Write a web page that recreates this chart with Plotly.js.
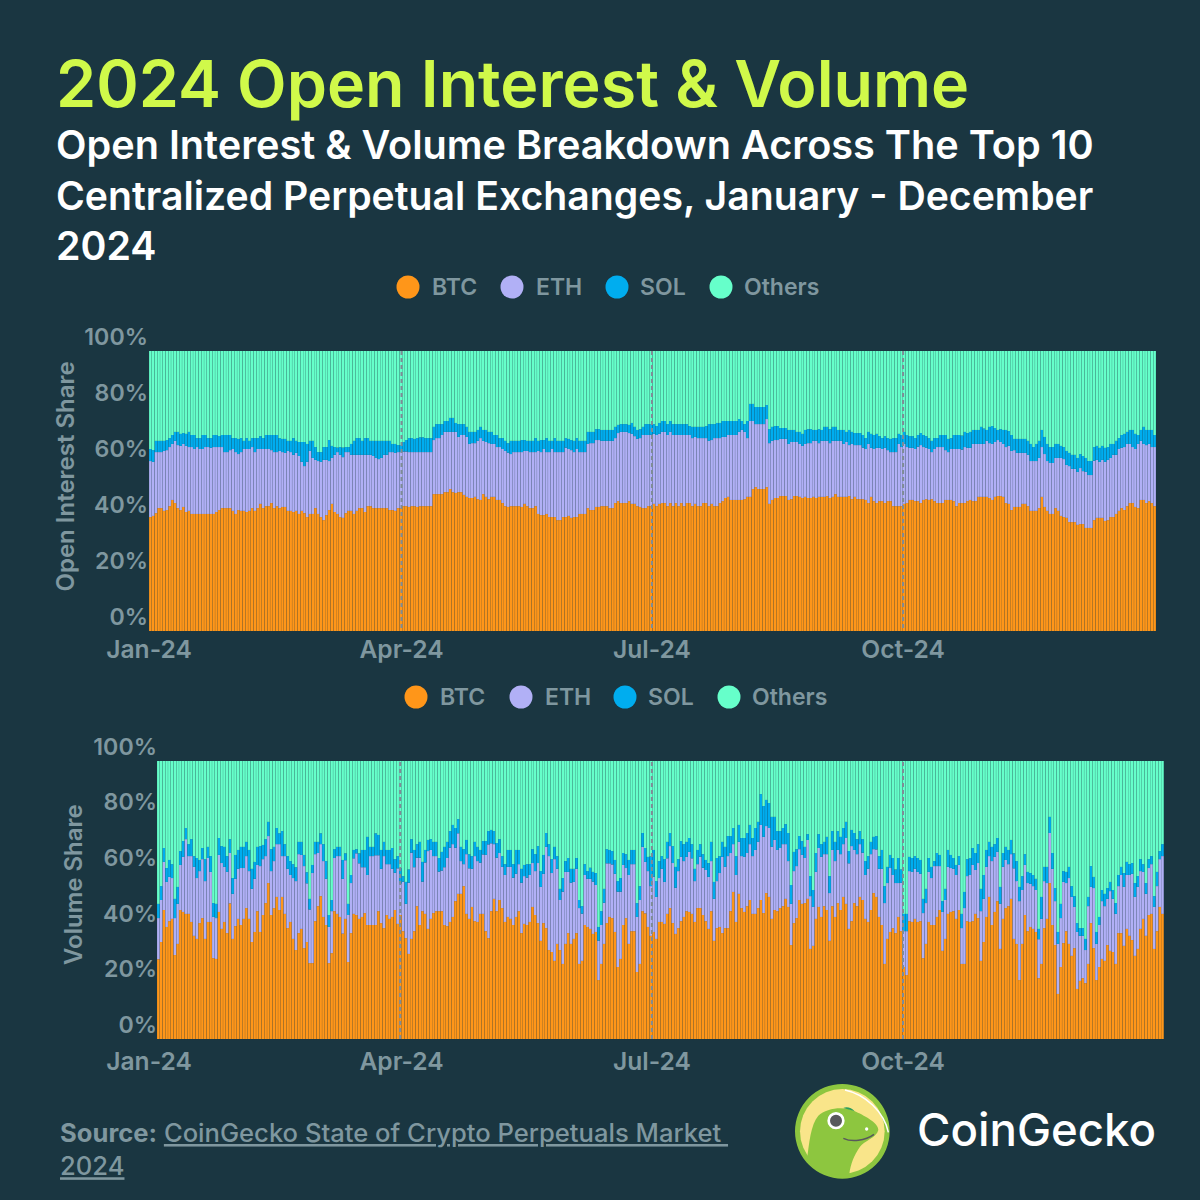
<!DOCTYPE html>
<html>
<head>
<meta charset="utf-8">
<script src="https://cdn.plot.ly/plotly-3.0.1.min.js"></script>
<style>html,body{margin:0;padding:0;background:#1a3641}</style>
</head>
<body>
<div id="chart" style="width:1200px;height:1200px"></div>
<script>
// Open interest: level of each stacked band (percent)
const oiBtc = [
40.7,41.1,42.1,43.9,43.9,42.9,43.2,44.6,46.8,45.7,
43.9,43.2,44.3,42.5,42.9,41.8,41.8,41.8,41.8,41.8,
41.8,41.8,41.8,41.8,42.5,43.2,43.9,43.9,43.9,43.9,
42.9,41.8,43.2,42.9,42.9,42.5,42.9,43.9,42.9,43.9,
45.4,43.9,44.6,44.6,45.7,43.9,44.6,43.9,44.3,44.3,
42.9,42.9,42.5,42.9,41.8,42.9,42.1,40.7,41.8,41.8,
43.9,41.8,40.7,39.6,41.4,43.2,45.4,42.5,41.8,40.7,
40.4,42.1,42.9,42.9,41.8,42.9,43.9,43.9,42.5,44.6,
44.6,43.9,43.9,43.9,43.9,43.9,43.9,43.2,43.2,42.9,
43.9,43.9,44.6,44.6,44.3,44.6,44.6,44.3,44.6,44.6,
44.6,44.6,44.6,48.9,48.9,48.9,48.9,49.6,49.6,50.7,
49.6,49.3,49.6,49.6,48.6,47.9,47.5,47.5,47.9,47.1,
46.8,48.9,47.9,47.1,47.9,47.9,46.8,46.8,45.7,44.6,
44.3,44.6,44.6,44.6,44.6,44.3,45.4,44.6,43.9,43.9,
44.6,41.8,41.4,41.4,41.8,40.7,40.7,40.7,39.6,39.6,
40.7,40.7,41.1,40.4,40.7,40.7,41.8,41.8,41.8,43.9,
43.2,43.2,44.3,44.3,44.6,44.6,44.6,43.9,43.9,45.7,
46.4,45.7,45.7,45.7,46.4,45.4,45.4,44.6,44.3,43.9,
43.9,44.6,44.6,45.4,44.6,45.4,45.7,45.7,44.6,45.7,
44.6,45.7,44.6,45.7,44.6,45.7,45.7,44.6,45.4,44.6,
44.6,45.7,45.7,44.6,45.4,44.6,44.6,45.7,46.4,47.5,
47.9,46.8,46.8,46.8,46.8,46.8,47.1,47.9,47.9,50.7,
51.4,50.7,50.7,50.7,51.4,45.4,46.8,47.5,47.5,48.2,
48.2,48.2,46.8,47.1,48.2,48.2,47.9,47.5,47.9,47.5,
47.5,47.9,47.5,47.9,47.9,47.9,48.2,47.5,47.9,48.9,
47.9,47.9,47.9,47.9,48.2,47.1,47.9,47.1,47.1,47.1,
46.8,45.7,47.9,46.4,45.7,46.4,46.4,45.7,46.4,46.4,
44.6,44.6,44.6,44.6,45.4,45.7,46.8,46.8,46.4,46.4,
45.7,46.8,47.1,46.8,47.1,46.4,45.7,45.7,45.7,46.8,
46.8,46.8,46.4,44.6,45.7,45.7,45.7,46.4,46.8,46.4,
46.4,47.9,47.9,47.9,47.9,47.5,46.8,47.9,48.2,48.2,
47.9,45.7,45.4,43.2,44.3,44.3,44.3,45.4,45.4,44.6,
42.9,42.9,42.9,43.9,47.9,44.3,42.9,41.8,41.8,43.9,
42.9,41.1,40.7,40.4,38.9,38.9,38.9,37.9,38.2,38.2,
36.8,36.8,36.8,39.6,40.4,40.4,40.4,39.3,39.6,40.7,
40.7,41.8,42.9,43.9,43.2,44.6,45.7,45.7,44.3,43.9,
46.8,46.8,45.7,46.4,45.7,44.6];
const oiEthTop = [
60.7,60.4,63.9,63.9,63.9,64.3,64.6,65.7,66.8,67.9,
66.4,66.1,66.8,66.1,65.7,65.7,65,65.7,65,65,
65.7,65.7,65.4,65.7,65.7,65.7,65.7,63.9,63.9,64.6,
65,63.9,63.2,63.9,65,65,65,65.7,63.9,65,
65,65,65,65,64.6,63.9,63.9,64.3,63.9,63.6,
64.3,63.9,62.9,63.6,62.5,60.4,58.9,60.4,64.3,61.8,
61.1,60.7,60.4,61.1,61.1,60.7,61.8,62.9,63.9,62.9,
62.1,63.9,63.9,62.9,62.9,62.9,62.9,62.9,62.9,62.9,
62.9,62.5,61.8,61.4,61.8,62.9,62.9,63.9,63.9,63.6,
63.9,63.9,64.1,64.1,63.9,63.9,63.9,63.9,63.9,63.9,
63.9,63.9,63.9,68.2,68.9,68.9,70,71.1,71.1,71.1,
71.1,71.1,69.3,70,70,69.3,66.8,67.1,67.1,67.9,
68.9,67.9,67.5,67.1,66.8,66.8,65.7,65.7,65,64.3,
63.7,63.2,63.9,63.9,63.9,63.9,64.3,64.3,63.9,63.9,
63.9,64.3,63.9,65,63.9,63.9,65,63.9,63.9,63.9,
63.9,65.5,65,64.6,63.9,65,63.9,63.9,63.9,66.8,
67.1,67.1,68.2,68.2,67.9,67.9,67.9,67.9,67.9,68.9,
70.7,71.1,71.1,71.1,70.7,70.4,69.6,68.6,68.9,70,
70,70,70.1,70.4,70,70.4,71.1,71.1,70,71.1,
70,70,70,70,70,70,70,68.9,69.3,68.9,
68.9,68.9,68.9,67.9,68.2,68.9,68.9,68.9,69.3,69.3,
70,70,70,70,71.1,71.8,71.1,68.9,75,75,
73.9,73.9,73.9,73.9,75.7,67.1,67.9,68.2,68.2,68.6,
68.6,68.6,66.8,67.5,67.5,67.5,66.8,66.1,66.8,67.1,
67.1,67.9,67.9,67.1,67.9,67.9,67.9,67.1,67.9,67.9,
67.9,67.9,66.8,67.5,66.4,66.8,66.4,66.4,66.4,65.5,
65,66.8,65.4,65,65.4,65.4,65,65.4,64.6,63.9,
63.9,63.9,66.8,65.7,66.8,65.7,65.4,65.4,65,65.8,
66.4,65.7,65.4,65,63.9,65,65.7,65.7,65.7,64.6,
63.9,65,65,65,65,64.8,65.7,65.4,65.4,66.8,
66.8,66.8,66.8,66.8,67.9,67.1,66.8,67.5,68.2,67.5,
66.8,65.7,66.1,64.3,64.6,63.6,63.6,63.6,63.6,62.9,
60.7,60.7,60.7,61.8,65.7,63.2,60.7,60,60,61.8,
61.8,61.8,61.4,59.3,58.9,57.9,57.9,56.8,58.2,57.1,
56.8,55.7,55.7,60.8,61.1,60.4,61.1,60.4,61.1,61.8,
62.9,62.9,65,65.4,65.7,66.8,66.8,65.7,65,66.8,
67.9,66.8,66.4,66.8,65.7,65.7];
const oiSolTop = [
65,64.6,67.9,67.9,67.9,67.9,68.2,68.9,70,71.1,
71.1,70.4,70.7,70.4,71.1,70,70,68.9,68.9,70,
70,68.9,68.9,70,70,69.6,70,70,70,70,
68.9,68.9,68.6,68.9,67.9,68.9,67.9,68.9,68.9,68.9,
69.6,68.9,70,70,70,70,70,68.9,68.6,68.6,
67.9,67.9,68.9,67.9,67.5,67.5,67.5,66.8,67.9,67.9,
65.7,63.9,63.9,65.7,65.7,68.2,66.1,65.7,65.5,65.7,
65.5,65.7,65.7,66.8,67.9,68.9,68.9,67.9,68.9,68.9,
67.9,67.9,67.9,67.9,67.9,67.9,67.9,67.9,66.8,66.8,
66.4,66.4,67.5,68.2,68.9,68.9,68.6,68.9,69.2,69.2,
68.9,68.9,68.9,72.9,73.9,73.9,73.9,75,75,76.1,
76.1,74.3,73.9,73.9,73.9,72.9,71.1,71.1,71.1,71.8,
72.9,71.8,71.8,71.1,71.1,70,70,68.9,68.9,67.9,
67.1,67.9,67.9,67.9,67.9,68.2,68.2,67.9,67.9,67.9,
68.9,67.9,68.2,68.2,68.9,67.9,67.9,68.9,67.9,67.9,
67.9,68.9,68.6,68.2,67.9,68.9,67.9,67.9,67.9,71.1,
71.1,71.1,72.1,72.1,71.8,71.8,71.8,71.8,71.8,72.9,
73.6,73.9,73.9,73.9,73.6,74.3,72.9,71.8,72.1,72.9,
73.9,73.9,73.9,73.9,73.2,74.3,75,75,73.9,75,
73.9,73.9,73.9,73.9,73.9,73.9,73.2,72.9,72.9,72.9,
72.9,72.9,73.2,73.9,73.9,73.9,74.3,74.3,75,75,
75,75,75,75,75.7,75,73.9,75,81.1,81.1,
80,80,80,80,80.7,72.1,72.9,73.2,73.2,72.5,
72.5,72.5,71.8,71.8,71.8,71.1,71.1,70.4,71.8,72.1,
72.1,71.8,71.8,72.1,71.8,72.9,72.9,72.1,72.9,72.9,
71.8,71.8,71.8,71.1,71.8,71.1,70.7,70.7,70.7,70,
68.9,71.1,70.4,70,70.4,69.6,68.9,69.6,68.9,68.6,
68.9,68.9,70.4,70,71.1,70,69.6,69.6,68.9,70,
70.7,70,69.6,68.9,67.9,68.9,68.9,70,70,70,
68.6,68.9,70,70,70,69.8,71.1,70.7,71.1,71.8,
71.8,71.8,72.9,72.3,71.8,72.9,73.2,72.5,71.8,72.1,
71.8,71.8,71.4,70,68.6,68.6,68.6,68.6,68.6,67.9,
66.8,65.7,66.8,67.9,71.8,69.3,66.8,65.7,65.7,66.8,
66.8,66.1,65.7,64.3,63.6,62.9,62.9,61.8,63.2,62.5,
61.8,60.7,60.7,65.7,66.1,65.4,66.1,65.4,65.7,66.8,
66.8,67.9,68.9,70,70.4,71.1,71.8,71.8,70.4,70,
71.8,72.9,71.8,71.8,71.8,70];

// Volume: level of each stacked band (percent)
const volBtc = [
28.7,34.9,46.4,40.3,42.4,43.2,30.2,34.2,46.4,45.7,
45,45,42.1,37.1,36,41.7,43.5,36,42.1,42.1,
29.1,28.8,45.7,39.6,42.1,38.1,48.8,36,40.6,43.2,
41,43.2,47.1,43.2,34.9,38.5,46,38.5,44.6,48.9,
56.1,44.6,47.1,51.1,46.4,51.1,45,39.9,42.1,36,
32,38.1,39.6,32.7,34.9,27.3,27.3,42.4,47.8,51.4,
43.9,41,27.3,30.9,46,45,43.9,37.9,43.2,27.7,
38.1,45,44.6,43.2,43.9,45.3,41,41,41,41,
46,41.7,39.9,44.6,43.2,43.9,46.4,41.4,44.6,38.8,
36.3,30.6,36,38.8,47.8,41,46,45,39.6,43.2,
45.3,46,46,46,41,40.6,42.1,43.9,49.6,52.2,
52.2,55,45,43.2,47.5,42.4,42.1,45,45,38.8,
36.3,46,50.4,46,50,47.1,42.1,43.9,43.2,41,
43.9,46,38.1,41.4,41,42.1,47.5,44.6,41.7,35.3,
41.7,39.9,32,31.3,28.1,34.2,32,27,34.2,38.1,
34.2,36,38.1,27,28.1,41,40.3,39.6,37.8,38.5,
21.2,27,34.2,41.7,43.9,43.5,38.5,25.9,28.8,41,
43.5,34.2,38.8,38.8,24.1,27,46,45.2,40.3,37.1,
38.5,36,42.1,42.1,41.4,45,47.1,41.7,37.8,39.9,
42.4,43.9,46,45.7,45,42.1,47.1,47.1,44.6,42.4,
39.6,46,35.3,39.9,40.3,38.1,39.9,39.9,46,52.9,
42.1,52.2,47.1,45.7,47.8,50,45,45,47.1,50,
45.3,52.5,51.1,43.2,46.4,46,47.1,47.8,50.4,47.5,
33.8,41.7,43.5,50,48.6,48.9,50.4,32.4,33.5,43.2,
47.5,43.9,47.8,46.4,35.3,47.8,43.9,48.9,46.4,51.1,
48.6,39.6,42.4,48.9,47.8,51.1,50,43.2,42.1,46.4,
52.5,51.1,43.9,41,27,36,38.5,39.9,38.1,43.9,
38.8,25.9,23,42.4,42.1,43.2,42.1,42.4,29.1,34.2,
42.1,41,41,43.9,46.4,31.7,36,45,45.7,46,
43.2,46.4,27,27,42.4,42.1,42.4,45,43.5,28.1,
34.9,43.9,51.1,41,45.7,49.6,32.4,43.2,47.1,47.8,
50.4,36,34.2,21.2,34.2,44.6,38.8,40.3,39.6,38.5,
21.9,27,39.9,43.2,56.1,41,33.8,16.2,25.9,34.5,
38.8,34.2,29.9,32.7,18,20.9,21.9,20.1,27,41.7,
32.7,21.2,25.9,28.8,28.1,33.8,31.7,31.3,27,38.1,
38.1,33.5,39.6,37.1,35.6,29.9,32.4,39.6,43.2,37.1,
44.6,45,32.4,38.8,47.5,45];
const volEthTop = [
43.5,50,63.7,56.5,58.3,57.9,43.5,48.6,62.6,65.5,
71.9,65.8,65.8,61.9,57.9,60.4,64.7,56.8,65.1,60.1,
43.9,43.5,66.2,63.3,61.9,60.1,66.9,52.2,57.6,61.2,
61.5,61.5,65.8,60.4,54,57.6,62.6,62.2,64.7,65.8,
73,60.4,64,70.1,70.1,65.8,65.8,61.2,59,57.9,
56.8,66.5,66.2,62.2,56,46.6,59.7,66.5,66.9,70.1,
64,57.6,40.3,46,65.1,65.8,65.8,57.6,64.3,44.6,
56.1,65,66.8,63.2,61.8,61.8,59,65.8,65.8,66.1,
66.1,61.2,65.8,62.9,62.9,61.2,59.8,61.4,56,56.6,
48.6,56.2,67,61.8,65.2,65.2,56.6,63.5,67.6,68,
65.8,65.8,60.2,60.6,61.8,65.1,68.8,70.1,68.8,74,
64,62.9,66.5,61.4,61.2,65.8,64,63.4,66.4,66.2,
70,70.4,70.1,65.2,66.9,61.9,59,61.9,61.9,58,
59.4,62.9,56.2,58.6,58,59,63.3,60.4,63.3,54.7,
59.4,69.1,65.8,59.7,64.7,61.2,50,53,60.1,60.1,
56.2,56.5,61.2,47.1,45.1,59,57.6,57.6,56.6,55.4,
35.4,41,49,63.2,63.2,62.8,59.4,53,53,62.6,
61.5,59,62.9,62.9,43.9,50,69.1,63.7,60.4,55,
58.4,51.1,57.9,61.2,56.5,65,69.4,63.3,54.4,60.4,
65.5,64,65.5,67.3,65,56.8,62.9,65.6,61.6,60.8,
58.3,64,50.4,56.8,59.7,65.5,61.9,65.8,66.9,70.1,
59,70.9,65.8,65.5,66.9,70.1,65.8,68,70.9,77,
72.7,76.6,75.9,69.1,71.6,68,68.7,70.1,70.1,64,
48.6,60.4,62.2,68.3,66.2,65.1,71.6,51.4,47.5,60.1,
68.7,65.5,66.5,66.5,52.5,68,64,68,66.5,70.1,
72.3,63.2,69.4,68,66.5,70.1,67,59,61.2,66.5,
68.3,68.2,61.2,61.2,48.9,56.1,61.5,59,56.1,56.1,
56.2,38.8,38.8,60.4,60.1,61.2,60.1,59.4,45.3,48.9,
60.1,57.9,62.2,62.2,62.2,45.7,50,61.9,61.5,61.2,
59,62.6,39.9,47.1,58.6,59,62.6,60.8,63.3,46,
50.4,61.9,65.8,64,65.5,67.3,48.6,61.9,64.4,62.9,
66.5,61.4,56.8,49.6,53.6,62.6,56.1,55.8,55,53.6,
35.9,43.2,56.8,56.1,74.1,61.2,49.6,34.2,43.5,56.5,
56.1,57.9,51.1,47.5,38.5,37.1,37.1,32,47.8,54.7,
54.3,34.2,41,49.6,47.8,50.4,53.2,50.4,45,55,
59,54.7,59,59,59.4,51.1,54.7,60.4,60.1,52.2,
61.5,62.9,47.5,55,64.7,65.8];
const volSolTop = [
48.6,55,68.7,61.5,64.4,62.9,50.4,54.7,67.6,71.2,
75.9,70.1,71.9,65.8,65.1,64.4,68.7,64.7,69.1,65.8,
48.9,48.6,72.3,69.4,69.1,65.8,71.9,57.9,66.2,68,
69.1,69.1,70.9,68,61.2,63.7,69.1,69.4,69.8,71.9,
78.1,68.3,69.1,75.9,74,74.8,70.1,65.8,64,62.9,
61.8,70.9,70.9,66.2,60,50.4,62.6,70.9,70.9,74,
70.1,64,44.6,50,68.3,69.1,69.1,64.4,66.8,48.6,
59,68,68.3,66.8,68,68,72.7,69.1,69.1,74,
73.4,68,70.9,68,68,68.7,64.7,65.8,61.4,58.6,
56.5,61,71.9,68,70.1,70.9,63.7,68,71.6,71.9,
70.9,70.9,65.1,67.3,69.1,70.9,74.8,77,75.9,79.1,
69.1,68.3,71.6,66.5,65.8,70.9,69.1,68,71.2,71.2,
74.8,75.2,74.8,70.5,71.9,65.8,62.9,68,68,62.9,
68,68,61.2,62.6,62.9,62.9,68.3,66.5,69.4,60.4,
66.2,74.1,70.1,64.7,69.1,65.8,54,57.9,64,65.1,
61.2,61.2,65.1,50,47.8,62.9,60.4,61.6,60.1,59.7,
40.3,46,54,68.3,68,67.6,64.4,56.8,57.9,66.9,
66.5,64.4,68,68,48.9,55,74.1,68.7,65.5,65.8,
68,56.8,64,65.8,64.7,70.9,74.1,69.4,61.9,64.7,
71.2,70.1,70.9,72.3,70.1,61.2,68,70.1,66.5,64.4,
63.3,70.9,56.5,65.1,65.8,70.9,69.1,73,73,75.9,
65.8,77,72.3,72.3,74.1,77,72.3,75.9,78.1,88.1,
83.8,86,84.9,79.9,79.9,74.8,74.8,75.9,77.3,74.1,
55.4,67.3,68.3,73,71.2,69.1,73.7,58.6,53.6,66.9,
73.7,70.1,70.9,72.7,58.6,74.8,70.9,74.8,72.7,75.9,
78.1,67.6,75.2,74.1,71.9,74.8,71.9,64,65.8,70.9,
72.7,73,65.8,68,55,61.9,66.2,65.1,61,65.1,
61,45,45,65.5,65.1,65.8,65.1,64.4,50.4,54,
65.1,61.9,64,66.9,66.2,49.6,54,68,66.2,65.1,
62.6,65.8,45,52.9,64.7,65.1,68.7,66.9,70.1,54,
59,68,70.9,69.1,70.1,72.3,54.7,66.9,69.1,68,
71.6,66.8,64,54.7,58.6,66.5,60.1,59.7,59,57.6,
39.6,51.1,61.9,61.9,79.9,66.9,54.3,38.5,48.6,60.4,
60.1,61.9,55,51.4,41.7,39.9,39.9,36,51.1,62.2,
58.3,38.5,43.9,53.6,52.2,54.3,56.5,53.6,48.9,59,
61.9,59.7,63.7,62.9,63.3,56.1,58.6,64.7,62.9,56.1,
64.7,65.8,51.4,60.1,67.6,70.1];

const seriesNames = ['BTC', 'ETH', 'SOL', 'Others'];
const seriesColors = ['#ff9619', '#b1b0f6', '#00adef', '#66ffca'];
const tickLabels = ['Jan-24', 'Apr-24', 'Jul-24', 'Oct-24'];
const tickDates = ['2023-12-31 12:00', '2024-04-01 07:00', '2024-07-01 07:00', '2024-09-30 14:00'];
const lowerLineDates = ['2024-03-31 19:00', '2024-07-01 07:00', '2024-09-30 14:00'];
const yTicks = [0, 20, 40, 60, 80, 100];

const BG = '#1a3641', GREY = '#7f979f', FONT = 'Inter, "Noto Sans", sans-serif';
const px = v => v / 1200, py = v => 1 - v / 1200;

function dates(startMs, n) {
  const out = [];
  for (let i = 0; i < n; i++) out.push(new Date(startMs + i * 864e5).toISOString().slice(0, 16).replace('T', ' '));
  return out;
}
const oiDates = dates(Date.UTC(2024, 0, 1), oiBtc.length);
const volDates = dates(Date.UTC(2024, 0, 3, 21, 36), volBtc.length);

function traces(x, btc, ethTop, solTop, xa, ya) {
  const bands = [
    btc,
    ethTop.map((v, i) => +(v - btc[i]).toFixed(1)),
    solTop.map((v, i) => +(v - ethTop[i]).toFixed(1)),
    solTop.map(v => +(100 - v).toFixed(1))
  ];
  return bands.map((y, k) => ({
    type: 'bar', x, y, xaxis: xa, yaxis: ya, name: seriesNames[k], showlegend: false,
    marker: { color: seriesColors[k], line: { width: 0 } }, hoverinfo: 'x+y+name'
  }));
}

function xAxis(domain, range, anchor, standoff) {
  return {
    domain, range, anchor, type: 'date', tickmode: 'array', tickvals: tickDates, ticktext: tickLabels,
    tickfont: { family: FONT, size: 24.6, color: GREY, weight: 600 }, ticklabelstandoff: standoff,
    ticks: '', showgrid: false, zeroline: false, showline: false, fixedrange: true, automargin: false
  };
}
function yAxis(domain, extra) {
  return Object.assign({
    domain, range: [0, 100], tickmode: 'array', tickvals: yTicks, ticktext: yTicks.map(v => v + '%'),
    tickfont: { family: FONT, size: 23.2, color: GREY, weight: 600 }, ticklabelposition: 'outside top', ticks: '',
    ticklabelshift: 2,
    showgrid: false, zeroline: false, showline: false, fixedrange: true, automargin: false
  }, extra);
}

function textAt(x, y, text, size, color, weight, angle) {
  const a = { xref: 'paper', yref: 'paper', x: px(x), y: py(y), text, showarrow: false, xanchor: 'left', yanchor: 'middle',
    align: 'left', font: { family: FONT, size, color, weight: weight || 400 } };
  if (angle !== undefined) { a.textangle = angle; a.xanchor = 'center'; }
  return a;
}

const annotations = [
  textAt(54, 83.5, '2024 Open Interest &amp; Volume', 64.5, '#d0f94a', 600),
  textAt(54, 145, 'Open Interest &amp; Volume Breakdown Across The Top 10', 39.65, '#ffffff', 600),
  textAt(54, 195.5, 'Centralized Perpetual Exchanges, January - December', 39.2, '#ffffff', 600),
  textAt(54, 246, '2024', 39.3, '#ffffff', 600),
  textAt(58, 1149, '<b>Source:</b> <u>CoinGecko State of Crypto Perpetuals Market </u><br><u>2024</u>', 25.6, GREY, 500),
  textAt(915, 1129, 'CoinGecko', 45.6, '#ffffff', 500),
  textAt(65, 476.5, 'Open Interest Share', 24, GREY, 600, -90),
  textAt(73, 885, 'Volume Share', 24, GREY, 600, -90)
];
const shapes = [];

function legendRow(y, circles, labels) {
  seriesNames.forEach((name, k) => {
    shapes.push({ type: 'circle', xref: 'paper', yref: 'paper', x0: px(circles[k] - 11.5), x1: px(circles[k] + 11.5), y0: py(y + 11.5), y1: py(y - 11.5),
      fillcolor: seriesColors[k], line: { width: 0 } });
    annotations.push(textAt(labels[k] - 2, y, name, 23, GREY, 600));
  });
}
legendRow(287, [408, 512, 617, 721], [432, 536, 640, 744]);
legendRow(697, [416, 521, 625, 729], [440, 545, 648, 752]);

function dashLines(xref, list, top, bottom) {
  list.forEach(d => shapes.push({ type: 'line', xref, yref: 'paper', x0: d, x1: d, y0: py(bottom), y1: py(top),
    layer: 'above', line: { color: '#7f8c96', width: 2, dash: '4px,3px' } }));
}
dashLines('x', tickDates.slice(1), 349, 628);
dashLines('x2', lowerLineDates, 761, 1039);

// CoinGecko logo
const ox = 780, oy = 1075;
const zp = s => s.replace(/(-?[\d.]+) (-?[\d.]+)/g, (m, a, b) => px(ox + a / 3).toFixed(5) + ' ' + py(oy + b / 3).toFixed(5));
function logoCircle(cx, cy, r, fill) {
  shapes.push({ type: 'circle', xref: 'paper', yref: 'paper', x0: px(ox + (cx - r) / 3), x1: px(ox + (cx + r) / 3), y0: py(oy + (cy + r) / 3), y1: py(oy + (cy - r) / 3), fillcolor: fill, line: { width: 0 } });
}
logoCircle(187, 169, 142, '#8dc63f');
logoCircle(187, 169, 127, '#f9e58a');
shapes.push({ type: 'path', xref: 'paper', yref: 'paper', fillcolor: '#8dc63f', line: { width: 0 },
  path: zp('M 80 262 C 88 200 92 150 115 122 C 140 98 195 92 228 110 C 258 124 296 145 295 165 C 290 188 252 198 240 215 C 222 240 212 268 208 296 C 165 305 115 295 80 262 Z') });
shapes.push({ type: 'path', xref: 'paper', yref: 'paper', fillcolor: '#2a9d5c', line: { width: 0 },
  path: zp('M 190 99 C 200 94 215 98 224 109 C 212 104 200 102 190 99 Z') });
logoCircle(168, 137, 26, '#ffffff');
logoCircle(168, 137, 18, '#58595b');
logoCircle(260, 162, 5, '#ffffff');
shapes.push({ type: 'path', xref: 'paper', yref: 'paper', line: { color: '#58595b', width: 1.5 },
  path: zp('M 190 190 C 215 202 255 198 282 178') });
shapes.push({ type: 'path', xref: 'paper', yref: 'paper', line: { color: '#ffffff', width: 1.5 },
  path: zp('M 195 45 C 255 58 312 110 325 172') });

const layout = {
  width: 1200, height: 1200, margin: { l: 0, r: 0, t: 0, b: 0 },
  paper_bgcolor: BG, plot_bgcolor: BG, barmode: 'stack', bargap: 0.07, showlegend: false,
  font: { family: FONT, color: GREY },
  xaxis: xAxis([px(149), px(1156)], ['2023-12-31 12:00', '2024-12-31 12:00'], 'y', 1),
  yaxis: yAxis([py(631), py(351)], { anchor: 'x' }),
  xaxis2: xAxis([px(149), px(1164)], ['2023-12-31 12:00', '2025-01-03 11:00'], 'y2', 5),
  yaxis2: yAxis([py(1039), py(761)], { anchor: 'free', overlaying: false, position: px(157) }),
  annotations, shapes
};

function softenBars() {
  document.querySelectorAll('#chart .bars path').forEach(p => { p.style.shapeRendering = 'geometricPrecision'; });
}
const chart = document.getElementById('chart');
Plotly.newPlot(chart, [
  ...traces(oiDates, oiBtc, oiEthTop, oiSolTop, 'x', 'y'),
  ...traces(volDates, volBtc, volEthTop, volSolTop, 'x2', 'y2')
], layout, { displayModeBar: false, staticPlot: true }).then(softenBars);
</script>
</body>
</html>
